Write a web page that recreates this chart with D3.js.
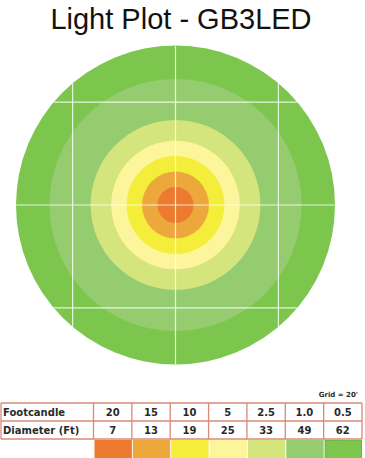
<!DOCTYPE html>
<meta charset="utf-8">
<title>Light Plot - GB3LED</title>
<script src="https://d3js.org/d3.v7.min.js"></script>
<style>
body { margin: 0; background: #fff; }
svg { display: block; }
.title { font-family: "Liberation Sans", Arial, sans-serif; font-size: 29px; fill: #111; }
.tbl text { font-family: "DejaVu Sans", sans-serif; font-weight: bold; font-size: 9px; fill: #2a2a2a; }
</style>
<body>
<div id="chart"></div>
<script>

// footcandle levels, beam diameters (ft) and the colour of each ring
var footcandles = ["20", "15", "10", "5", "2.5", "1.0", "0.5"];
var diameters = [7, 13, 19, 25, 33, 49, 62];
var ringColors = ["#ec7b30", "#eda83c", "#f4ee3a", "#fcf59b", "#d3e57c", "#95cc6f", "#7cc64e"];
var gridFt = [-40, -20, 0, 20, 40];

var width = 365, height = 458;
var cx = 175.5, cy = 205;

var svg = d3.select("#chart").append("svg")
  .attr("width", width)
  .attr("height", height);

svg.append("text")
  .attr("class", "title")
  .attr("x", 181)
  .attr("y", 28.5)
  .attr("text-anchor", "middle")
  .text("Light Plot - GB3LED");

// feet -> pixels (radius)
var r = d3.scaleLinear().domain([0, 31]).range([0, 159.5]);
var gx = d3.scaleLinear().domain([-31, 31]).range([cx - r(31), cx + r(31)]);
var gy = d3.scaleLinear().domain([-31, 31]).range([cy - r(31), cy + r(31)]);

var rings = diameters.map(function(d, i) { return {d: d, color: ringColors[i]}; }).reverse();

svg.selectAll("circle.ring")
  .data(rings)
  .enter().append("circle")
  .attr("class", "ring")
  .attr("cx", cx)
  .attr("cy", cy)
  .attr("r", function(d) { return r(d.d / 2); })
  .attr("fill", function(d) { return d.color; });

svg.append("clipPath").attr("id", "clip")
  .append("circle")
  .attr("cx", cx).attr("cy", cy).attr("r", r(31));

var grid = svg.append("g").attr("clip-path", "url(#clip)")
  .attr("stroke", "#fff").attr("stroke-opacity", 0.8).attr("stroke-width", 1.2);

grid.selectAll("line.v").data(gridFt).enter().append("line")
  .attr("x1", function(d) { return gx(d); }).attr("x2", function(d) { return gx(d); })
  .attr("y1", gy(-31)).attr("y2", gy(31));

grid.selectAll("line.h").data(gridFt).enter().append("line")
  .attr("y1", function(d) { return gy(d); }).attr("y2", function(d) { return gy(d); })
  .attr("x1", gx(-31)).attr("x2", gx(31));

// table
var tbl = svg.append("g").attr("class", "tbl");
var col = d3.scaleBand().domain(d3.range(7)).range([93.5, 362]);
var rowY = [403, 421, 439];
var border = "#d9897a";

tbl.append("text")
  .attr("x", 358).attr("y", 396.5)
  .attr("text-anchor", "end")
  .style("font-size", "7px")
  .text("Grid = 20'");

tbl.selectAll("rect.sw").data(ringColors).enter().append("rect")
  .attr("x", function(d, i) { return col(i) + 1; })
  .attr("y", 440)
  .attr("width", col.bandwidth() - 1)
  .attr("height", 18)
  .attr("fill", function(d) { return d; });

tbl.append("rect")
  .attr("x", col(6) + 1.5).attr("y", 440.5)
  .attr("width", col.bandwidth() - 2).attr("height", 18)
  .attr("fill", "none")
  .attr("stroke", "#5a9a35")
  .attr("stroke-dasharray", "1,1.5")
  .attr("stroke-width", 0.8);

var lines = tbl.append("g").attr("stroke", border).attr("stroke-width", 1.3);
rowY.forEach(function(y) {
  lines.append("line").attr("x1", 1).attr("x2", 362).attr("y1", y).attr("y2", y);
});
lines.append("line").attr("x1", 1).attr("x2", 1).attr("y1", rowY[0]).attr("y2", rowY[2]);
d3.range(8).forEach(function(i) {
  var x = i < 7 ? col(i) : 362;
  lines.append("line").attr("x1", x).attr("x2", x).attr("y1", rowY[0]).attr("y2", rowY[2]);
});

tbl.append("text").attr("x", 3).attr("y", 415.5).style("font-size", "10px").text("Footcandle");
tbl.append("text").attr("x", 3).attr("y", 433.5).style("font-size", "10px").text("Diameter (Ft)");

tbl.selectAll("text.fc").data(footcandles).enter().append("text")
  .attr("class", "fc")
  .attr("x", function(d, i) { return col(i) + col.bandwidth() / 2; })
  .attr("y", 415.5)
  .attr("text-anchor", "middle")
  .style("font-size", "10px")
  .text(function(d) { return d; });

tbl.selectAll("text.dm").data(diameters).enter().append("text")
  .attr("class", "dm")
  .attr("x", function(d, i) { return col(i) + col.bandwidth() / 2; })
  .attr("y", 433.5)
  .attr("text-anchor", "middle")
  .style("font-size", "10px")
  .text(function(d) { return d; });

</script>
</body>
